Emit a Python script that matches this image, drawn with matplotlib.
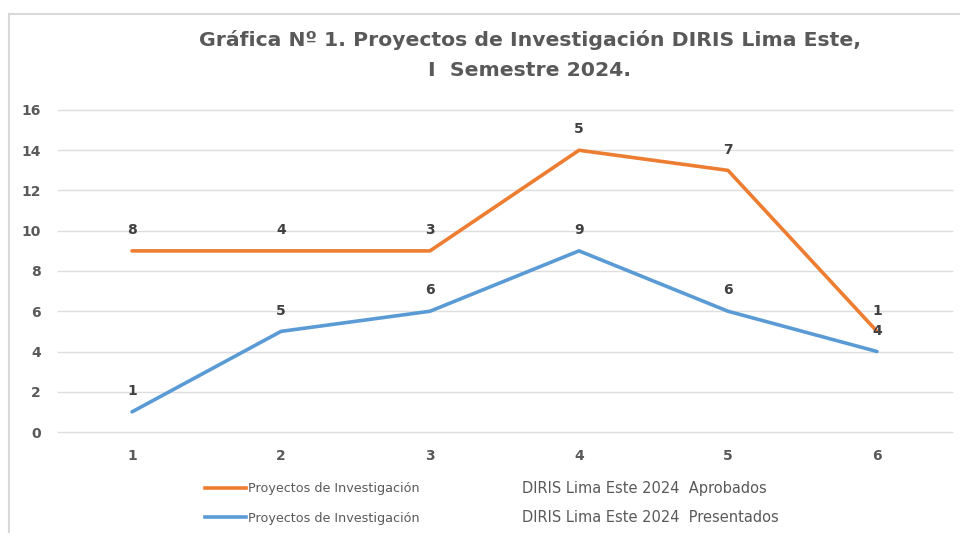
import numpy as np
import matplotlib.pyplot as plt
from matplotlib.lines import Line2D

# datos (linea apilada)
meses = [1, 2, 3, 4, 5, 6]
presentados = [1, 5, 6, 9, 6, 4]
aprobados = [8, 4, 3, 5, 7, 1]
y_ticks = [0, 2, 4, 6, 8, 10, 12, 14, 16]

titulo1 = "Gráfica Nº 1. Proyectos de Investigación DIRIS Lima Este,"
titulo2 = "I  Semestre 2024."
serie_nombre = "Proyectos de Investigación"
serie_aprob = "DIRIS Lima Este 2024  Aprobados"
serie_pres = "DIRIS Lima Este 2024  Presentados"

naranja = "#ED7D31"
azul = "#5B9BD5"
gris = "#595959"

W, H = 960, 533
fig = plt.figure(figsize=(W / 100, H / 100), dpi=100)
ax = fig.add_axes([57.5 / W, (H - 432) / H, (951.5 - 57.5) / W, (432 - 110) / H])

# stacked: la serie naranja va encima de la azul
apilado = np.add(presentados, aprobados)

ax.plot(meses, presentados, color=azul, lw=2.6, solid_capstyle="round", zorder=3)
ax.plot(meses, apilado, color=naranja, lw=2.6, solid_capstyle="round", zorder=3)

for x, y, v in zip(meses, presentados, presentados):
    ax.annotate(str(v), (x, y), xytext=(0, 15), textcoords="offset points",
                ha="center", va="center", fontsize=10, fontweight="bold", color="#404040")
for x, y, v in zip(meses, apilado, aprobados):
    ax.annotate(str(v), (x, y), xytext=(0, 15), textcoords="offset points",
                ha="center", va="center", fontsize=10, fontweight="bold", color="#404040")

ax.set_xlim(0.5, 6.5)
ax.set_ylim(0, 16)
ax.set_yticks(y_ticks)
ax.set_xticks(meses)
ax.grid(axis="y", color="#DEDEDE", lw=1.0)
ax.set_axisbelow(True)
for gl in ax.get_ygridlines():
    gl.set_clip_on(False)
for s in ax.spines.values():
    s.set_visible(False)
ax.tick_params(length=0, labelsize=10, labelcolor=gris)
ax.tick_params(axis="y", pad=12)
ax.tick_params(axis="x", pad=12)
for lbl in ax.get_xticklabels() + ax.get_yticklabels():
    lbl.set_fontweight("bold")

# titulo
fig.text(530 / W, (H - 40) / H, titulo1, ha="center", va="center", fontsize=14.7,
         fontweight="bold", color=gris)
fig.text(530 / W, (H - 71) / H, titulo2, ha="center", va="center", fontsize=14.7,
         fontweight="bold", color=gris)

# leyenda
handles = [Line2D([], [], color=naranja, lw=2.6), Line2D([], [], color=azul, lw=2.6)]
leg = fig.legend(handles, [serie_nombre, serie_nombre], loc="center left",
                 bbox_to_anchor=(205 / W, (H - 503.5) / H), frameon=False,
                 borderpad=0, borderaxespad=0, handlelength=3.2, handletextpad=0.15,
                 labelspacing=1.3, prop={"size": 9.2})
for t in leg.get_texts():
    t.set_color(gris)
fig.text(522 / W, (H - 489) / H, serie_aprob, ha="left", va="center", fontsize=10.5,
         color=gris)
fig.text(522 / W, (H - 518) / H, serie_pres, ha="left", va="center", fontsize=10.5,
         color=gris)

# borde del area del grafico
fig.add_artist(Line2D([9 / W, 1], [(H - 14) / H] * 2, color="#D9D9D9", lw=1.5))
fig.add_artist(Line2D([9 / W] * 2, [0, (H - 14) / H], color="#D9D9D9", lw=1.5))

fig.savefig("out.png", dpi=100)
